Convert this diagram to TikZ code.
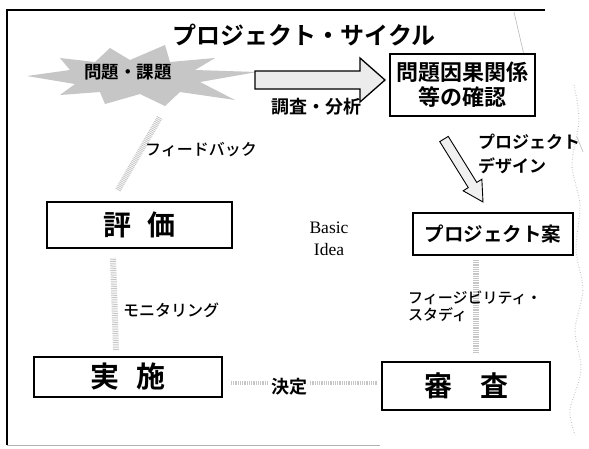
\documentclass[tikz,border=0pt]{standalone}
\usepackage{fontspec}
\newfontfamily\jp{Noto Sans CJK JP}[BoldFont={Noto Sans CJK JP Bold}]
\newfontfamily\jpm{Noto Sans CJK JP Medium}
\newfontfamily\serifen{Liberation Serif}
\usetikzlibrary{calc}
\begin{document}
\begin{tikzpicture}[x=1pt,y=-1pt,
  boxed/.style={draw=black,line width=1.6pt,fill=white,inner sep=0pt,align=center,font=\jp\bfseries},
  lbl/.style={inner sep=0pt,align=left,font=\jp\bfseries},
  cyc/.style={draw=gray!45,line width=6pt,dash pattern=on 0.8pt off 1pt},
  faint/.style={draw=gray!55,line width=0.6pt},
  frame/.style={draw=black,line width=1.2pt}]
\useasboundingbox (0,0) rectangle (589,448);
\fill[white] (0,0) rectangle (589,448);
% frame
\draw[frame] (7,445) -- (7,10) -- (545,10);
\draw[draw=gray!60,line width=1pt] (7,445) -- (380,445);
\draw[faint] (514,12) -- (524,55);
\draw[faint] (577,137) -- (583,152);
\draw[faint,dotted,line width=1pt] plot[smooth] coordinates {(574,85) (579,120) (572,165) (580,205) (576,250) (583,290) (575,330) (581,370) (570,410) (575,435)};
% title
\node[inner sep=0pt,font=\jp\bfseries\fontsize{24}{28}\selectfont] (title) at (304,35) {プロジェクト・サイクル};
% starburst
\fill[gray!45] (27,76) -- (70,70) -- (60,58) -- (95,62) -- (110,48) -- (130,60) -- (165,45) -- (170,62) -- (215,58) -- (195,70) -- (257,72) -- (200,82) -- (235,100) -- (180,92) -- (165,106) -- (140,94) -- (105,104) -- (100,92) -- (60,95) -- (75,84) -- cycle;
\node[lbl,font=\jp\bfseries\fontsize{17.5}{20}\selectfont] (mondai) at (128,72) {問題・課題};
% box 1
\node[boxed,minimum width=145pt,minimum height=62pt,font=\jp\bfseries\fontsize{22}{25}\selectfont] (kakunin) at (462.5,85) {問題因果関係\\等の確認};
% big hollow arrow
\draw[black,line width=1.3pt,fill=gray!15] (255,71) -- (360,71) -- (360,58) -- (385,80) -- (360,102) -- (360,89) -- (255,89) -- cycle;
\node[lbl,font=\jp\bfseries\fontsize{18}{20}\selectfont] (chousa) at (316,107) {調査・分析};
% diagonal arrow
\draw[black,line width=0.9pt,fill=gray!12] (448.25,136.4) -- (476.75,182.4) -- (481.85,179.2) -- (483,202) -- (463.15,190.8) -- (468.25,187.6) -- (439.75,141.6) -- cycle;
\node[lbl,anchor=west,font=\jp\bfseries\fontsize{17}{24}\selectfont] (pd1) at (478,142) {プロジェクト};
\node[lbl,anchor=west,font=\jp\bfseries\fontsize{17}{24}\selectfont] (pd2) at (478,166) {デザイン};
% box 評価
\node[boxed,minimum width=185pt,minimum height=46pt,font=\jp\bfseries\fontsize{28}{30}\selectfont] (hyouka) at (139.5,225) {評\hspace{0.6em}価};
% Basic Idea
\node[inner sep=0pt,align=center,font=\serifen\fontsize{17.5}{22}\selectfont] (basic) at (329,239) {Basic\\Idea};
% box プロジェクト案
\node[boxed,minimum width=160pt,minimum height=42pt,font=\jp\bfseries\fontsize{19.5}{22}\selectfont] (an) at (493,234) {プロジェクト案};
% box 実施
\node[boxed,minimum width=188pt,minimum height=40pt,font=\jp\bfseries\fontsize{29}{30}\selectfont] (jisshi) at (128,377) {実\hspace{0.6em}施};
% box 審査
\node[boxed,minimum width=168pt,minimum height=48pt,font=\jp\bfseries\fontsize{28}{30}\selectfont] (shinsa) at (466,386) {審\hspace{1em}査};
% cycle connectors (faint)
\coordinate (fbS) at (118,190);
\coordinate (fbE) at (160,117);
\draw[cyc] (fbS) -- (fbE);
\coordinate (moS) at (116,350);
\coordinate (moE) at (113,258);
\draw[cyc] (moS) -- (moE);
\coordinate (feS) at (476,260);
\coordinate (feE) at (476,352);
\draw[cyc] (feS) -- (feE);
\node[lbl,font=\jp\bfseries\fontsize{18}{20}\selectfont] (kettei) at (289,387) {決定};
\draw[cyc,line width=4pt] ($(shinsa.west)+(-4,-3)$) -- ($(kettei.east)+(3,-4)$);
\draw[cyc,line width=4pt] ($(kettei.west)+(-3,-4)$) -- ($(jisshi.east)+(8,6)$);
% labels
\node[lbl,anchor=west,font=\jpm\fontsize{16}{18}\selectfont] (fb) at (145,150) {フィードバック};
\node[lbl,anchor=west,font=\jpm\fontsize{16}{18}\selectfont] (mon) at (123,310) {モニタリング};
\node[lbl,anchor=north west,font=\jpm\fontsize{15}{17}\selectfont] (fs) at (408,291) {フィージビリティ・\\スタディ};
\end{tikzpicture}
\end{document}
